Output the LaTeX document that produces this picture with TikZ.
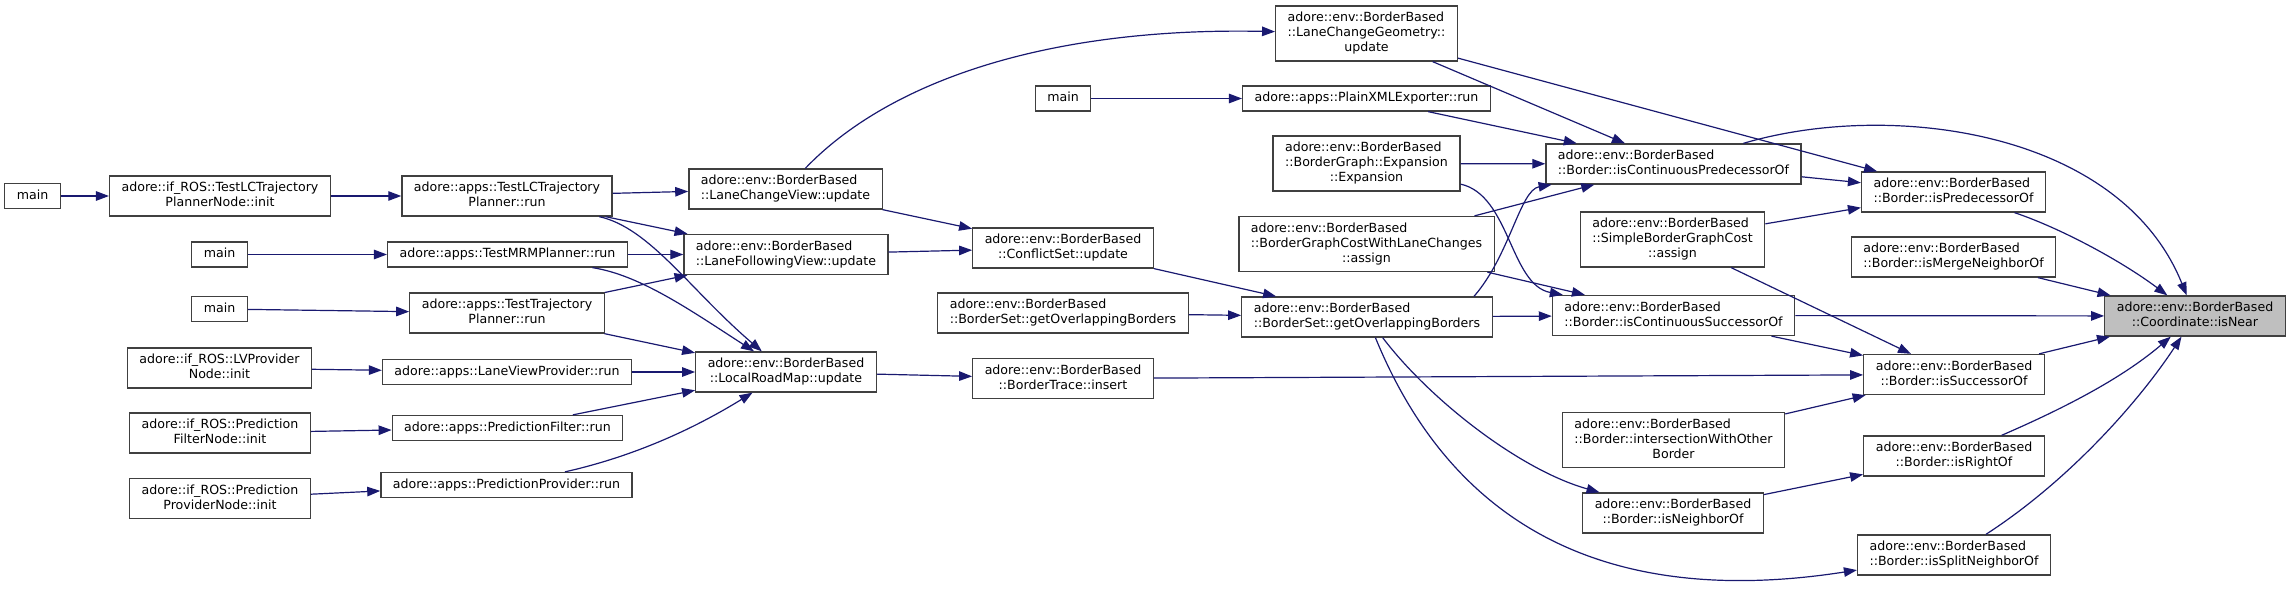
\documentclass[tikz,border=0pt]{standalone}
\usepackage{fontspec}
\setmainfont{DejaVu Sans}
\usetikzlibrary{arrows.meta}
\definecolor{edgeblue}{HTML}{191970}
\definecolor{boxline}{HTML}{404040}
\definecolor{rootfill}{HTML}{BFBFBF}
% label lines: leading lines left, last line centred
\newcommand{\lbl}[1]{\begin{tabular}{@{}c@{}}#1\end{tabular}}
\newcommand{\lblii}[2]{\begin{tabular}{@{}l@{}}#1\\\multicolumn{1}{@{}c@{}}{#2}\end{tabular}}
\newcommand{\lbliii}[3]{\begin{tabular}{@{}l@{}}#1\\#2\\\multicolumn{1}{@{}c@{}}{#3}\end{tabular}}
\newcommand{\bb}{adore::env::BorderBased}

\begin{document}
\begin{tikzpicture}[
    x=1pt, y=1pt,
    box/.style={draw=boxline, fill=white, line width=1.3pt, rectangle,
                inner xsep=12pt, inner ysep=5pt,
                font=\fontsize{12.6}{15}\selectfont},
    root/.style={box, fill=rootfill},
    arrow/.style={-{Triangle[length=13pt,width=9.5pt]}, draw=edgeblue,
                  line width=1.2pt}
]
    \useasboundingbox (0,0) rectangle (2292,-591);

    % Entry points
    \node[box] (mainA) at (32.5,-196) {\lbl{main}};
    \node[box] (lcnode) at (220,-196) {\lblii{adore::if\_ROS::TestLCTrajectory}{PlannerNode::init}};
    \node[box] (mainB) at (219.5,-254.5) {\lbl{main}};
    \node[box] (mainC) at (219.5,-309) {\lbl{main}};
    \node[box] (lvnode) at (219.5,-368) {\lblii{adore::if\_ROS::LVProvider}{Node::init}};
    \node[box] (pfnode) at (220,-433) {\lblii{adore::if\_ROS::Prediction}{FilterNode::init}};
    \node[box] (ppnode) at (220,-498.5) {\lblii{adore::if\_ROS::Prediction}{ProviderNode::init}};

    % Apps
    \node[box] (lcrun) at (507,-196) {\lblii{adore::apps::TestLCTrajectory}{Planner::run}};
    \node[box] (mrmrun) at (507.5,-254.5) {\lbl{adore::apps::TestMRMPlanner::run}};
    \node[box] (trajrun) at (507,-313) {\lblii{adore::apps::TestTrajectory}{Planner::run}};
    \node[box] (lvprun) at (507,-372) {\lbl{adore::apps::LaneViewProvider::run}};
    \node[box] (pfrun) at (507.5,-428) {\lbl{adore::apps::PredictionFilter::run}};
    \node[box] (pprun) at (506.5,-485) {\lbl{adore::apps::PredictionProvider::run}};

    % Views and road map
    \node[box] (lcview) at (785.5,-189) {\lblii{\bb}{::LaneChangeView::update}};
    \node[box] (lfview) at (786,-254.5) {\lblii{\bb}{::LaneFollowingView::update}};
    \node[box] (lrmap) at (786,-372) {\lblii{\bb}{::LocalRoadMap::update}};

    \node[box] (mainD) at (1063,-98.5) {\lbl{main}};
    \node[box] (conflict) at (1063,-248) {\lblii{\bb}{::ConflictSet::update}};
    \node[box] (overlapA) at (1063,-313) {\lblii{\bb}{::BorderSet::getOverlappingBorders}};
    \node[box] (trace) at (1063,-378.5) {\lblii{\bb}{::BorderTrace::insert}};

    % Border users
    \node[box] (lcgeom) at (1366.5,-33.5) {\lbliii{\bb}{::LaneChangeGeometry::}{update}};
    \node[box] (xmlrun) at (1366.5,-98.5) {\lbl{adore::apps::PlainXMLExporter::run}};
    \node[box] (expansion) at (1366.5,-163.5) {\lbliii{\bb}{::BorderGraph::Expansion}{::Expansion}};
    \node[box] (costlc) at (1366.5,-244) {\lbliii{\bb}{::BorderGraphCostWithLaneChanges}{::assign}};
    \node[box] (overlapB) at (1367,-317) {\lblii{\bb}{::BorderSet::getOverlappingBorders}};

    \node[box] (contpred) at (1673.5,-164) {\lblii{\bb}{::Border::isContinuousPredecessorOf}};
    \node[box] (simplecost) at (1672.5,-239.5) {\lbliii{\bb}{::SimpleBorderGraphCost}{::assign}};
    \node[box] (contsucc) at (1673.5,-315.5) {\lblii{\bb}{::Border::isContinuousSuccessorOf}};
    \node[box] (intersect) at (1673.5,-440) {\lbliii{\bb}{::Border::intersectionWithOther}{Border}};
    \node[box] (neighbor) at (1673,-513) {\lblii{\bb}{::Border::isNeighborOf}};

    % Direct callers
    \node[box] (pred) at (1953.5,-192) {\lblii{\bb}{::Border::isPredecessorOf}};
    \node[box] (merge) at (1953.5,-257) {\lblii{\bb}{::Border::isMergeNeighborOf}};
    \node[box] (succ) at (1954,-374.5) {\lblii{\bb}{::Border::isSuccessorOf}};
    \node[box] (rightof) at (1954,-456) {\lblii{\bb}{::Border::isRightOf}};
    \node[box] (split) at (1954,-555) {\lblii{\bb}{::Border::isSplitNeighborOf}};

    % Root
    \node[root] (near) at (2195,-316) {\lblii{\bb}{::Coordinate::isNear}};

    % Arrows
    \draw[arrow] (mainA) -- (lcnode);
    \draw[arrow] (lcnode) -- (lcrun);
    \draw[arrow] (mainB) -- (mrmrun);
    \draw[arrow] (mainC) -- (trajrun);
    \draw[arrow] (lvnode) -- (lvprun);
    \draw[arrow] (pfnode) -- (pfrun);
    \draw[arrow] (ppnode) -- (pprun);

    \draw[arrow] (lcrun) -- (lcview);
    \draw[arrow] (lcrun) -- (lfview);
    \draw[arrow] (lcrun) .. controls (650,-228) and (690,-290) .. (lrmap);
    \draw[arrow] (mrmrun) -- (lfview);
    \draw[arrow] (mrmrun) .. controls (640,-275) and (690,-310) .. (lrmap);
    \draw[arrow] (trajrun) -- (lfview);
    \draw[arrow] (trajrun) -- (lrmap);
    \draw[arrow] (lvprun) -- (lrmap);
    \draw[arrow] (pfrun) -- (lrmap);
    \draw[arrow] (pprun) .. controls (640,-455) and (700,-425) .. (lrmap);

    \draw[arrow] (lcview) .. controls (890,-80) and (1050,-27) .. (lcgeom);
    \draw[arrow] (lcview) -- (conflict);
    \draw[arrow] (lfview) -- (conflict);
    \draw[arrow] (lrmap) -- (trace);
    \draw[arrow] (conflict) -- (overlapB);
    \draw[arrow] (overlapA) -- (overlapB);
    \draw[arrow] (trace) -- (succ);
    \draw[arrow] (mainD) -- (xmlrun);

    \draw[arrow] (lcgeom) -- (contpred);
    \draw[arrow] (lcgeom) -- (pred);
    \draw[arrow] (xmlrun) -- (contpred);
    \draw[arrow] (expansion) -- (contpred);
    \draw[arrow] (expansion) .. controls (1510,-195) and (1510,-285) .. (contsucc);
    \draw[arrow] (costlc) -- (contpred);
    \draw[arrow] (costlc) -- (contsucc);
    \draw[arrow] ([xshift=107pt]overlapB.north) .. controls (1510,-255) and (1520,-190) .. (contpred);
    \draw[arrow] (overlapB) -- (contsucc);
    \draw[arrow] (overlapB) .. controls (1430,-400) and (1520,-470) .. (neighbor);
    \draw[arrow] (overlapB) .. controls (1450,-520) and (1600,-610) .. (split);

    \draw[arrow] (contpred) -- (pred);
    \draw[arrow] (contpred) .. controls (1890,-100) and (2120,-130) .. (near);
    \draw[arrow] (simplecost) -- (pred);
    \draw[arrow] (simplecost) -- (succ);
    \draw[arrow] (contsucc) -- (near);
    \draw[arrow] (contsucc) -- (succ);
    \draw[arrow] (intersect) -- (succ);
    \draw[arrow] (neighbor) -- (rightof);

    \draw[arrow] (pred) .. controls (2060,-228) and (2120,-260) .. (near);
    \draw[arrow] (merge) -- (near);
    \draw[arrow] (succ) -- (near);
    \draw[arrow] (rightof) .. controls (2060,-410) and (2120,-380) .. (near);
    \draw[arrow] (split) .. controls (2070,-480) and (2140,-400) .. (near);
\end{tikzpicture}
\end{document}
